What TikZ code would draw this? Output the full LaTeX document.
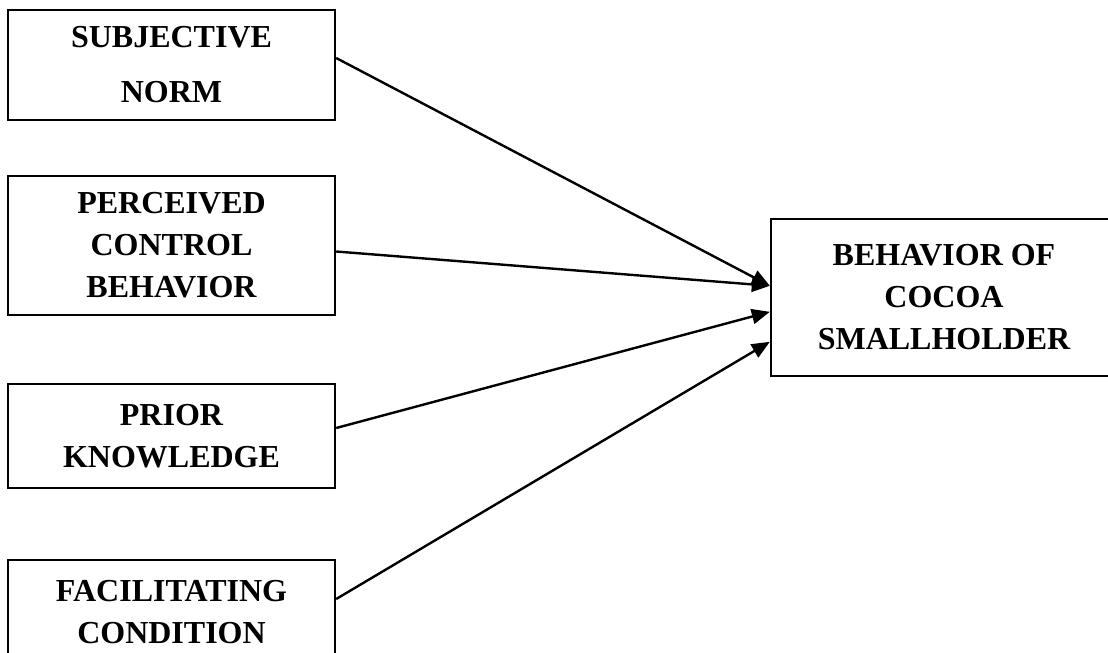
\documentclass[tikz,border=0pt]{standalone}
\usepackage{fontspec}
\setmainfont{Liberation Serif}
\usetikzlibrary{arrows.meta}
\begin{document}
\begin{tikzpicture}[x=1pt,y=-1pt,
  box/.style={draw=black,line width=2.4pt,inner sep=0pt,align=center,
    font=\fontsize{32}{42}\selectfont\bfseries},
  arr/.style={line width=2.4pt,-{Triangle[length=18pt,width=15pt]}}]
\useasboundingbox (0,0) rectangle (1108,653);
\node[box,minimum width=327pt,minimum height=110pt] (b1) at (171.5,65) {SUBJECTIVE\\[13pt]NORM};
\node[box,minimum width=327pt,minimum height=139pt] (b2) at (171.5,245.5) {PERCEIVED\\CONTROL\\BEHAVIOR};
\node[box,minimum width=327pt,minimum height=104pt] (b3) at (171.5,436) {PRIOR\\KNOWLEDGE};
\node[box,minimum width=327pt,minimum height=104pt] (b4) at (171.5,612) {FACILITATING\\CONDITION};
\node[box,minimum width=346pt,minimum height=157pt] (t) at (944,297.5) {BEHAVIOR OF\\COCOA\\SMALLHOLDER};
\draw[arr] ([yshift=7pt]b1.east) -- ([yshift=-68pt]t.north west);
\draw[arr] ([yshift=-6pt]b2.east) -- ([yshift=-68pt]t.north west);
\draw[arr] ([yshift=8pt]b3.east) -- ([yshift=-94pt]t.north west);
\draw[arr] ([yshift=13pt]b4.east) -- ([yshift=-124pt]t.north west);
\end{tikzpicture}
\end{document}
